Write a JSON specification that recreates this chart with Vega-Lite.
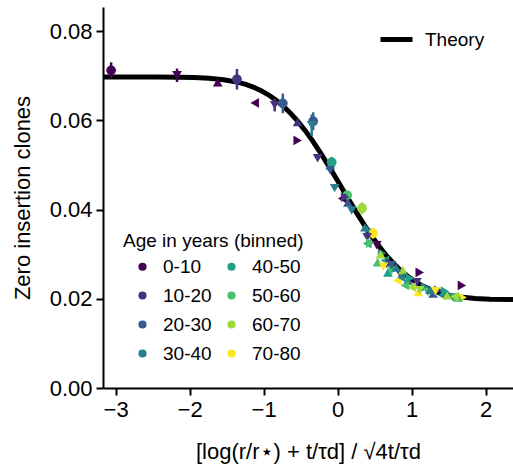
{
  "$schema": "https://vega.github.io/schema/vega-lite/v6.json",
  "width": 410,
  "height": 381,
  "autosize": {"type": "none"},
  "padding": {"left": 103, "top": 7, "right": 0, "bottom": 84},
  "config": {
    "font": "Liberation Sans",
    "view": {"stroke": null},
    "axis": {
      "domainColor": "black", "domainWidth": 2, "tickColor": "black", "tickWidth": 2, "tickSize": 7,
      "labelColor": "black", "labelFontSize": 22, "titleFontSize": 22, "titleFontWeight": "normal",
      "titleColor": "black", "grid": false, "labelPadding": 4
    },
    "legend": {"labelFont": "Liberation Sans", "titleFont": "Liberation Sans", "labelColor": "black", "titleColor": "black"}
  },
  "datasets": {
    "theory": [
      {"x": -3.17, "y": 0.0697}, {"x": -2.44, "y": 0.06969}, {"x": -2.14, "y": 0.06965}, {"x": -1.94, "y": 0.06958},
      {"x": -1.74, "y": 0.06943}, {"x": -1.54, "y": 0.06911}, {"x": -1.34, "y": 0.06851}, {"x": -1.24, "y": 0.06805},
      {"x": -1.14, "y": 0.06746}, {"x": -1.04, "y": 0.06671}, {"x": -0.94, "y": 0.06578}, {"x": -0.84, "y": 0.06463},
      {"x": -0.74, "y": 0.06327}, {"x": -0.64, "y": 0.06166}, {"x": -0.54, "y": 0.05982}, {"x": -0.44, "y": 0.05774},
      {"x": -0.34, "y": 0.05544}, {"x": -0.24, "y": 0.05295}, {"x": -0.14, "y": 0.05031}, {"x": -0.04, "y": 0.04756},
      {"x": 0.06, "y": 0.04475}, {"x": 0.16, "y": 0.04194}, {"x": 0.26, "y": 0.03919}, {"x": 0.36, "y": 0.03655},
      {"x": 0.46, "y": 0.03406}, {"x": 0.56, "y": 0.03176}, {"x": 0.66, "y": 0.02968}, {"x": 0.76, "y": 0.02784},
      {"x": 0.86, "y": 0.02623}, {"x": 0.96, "y": 0.02487}, {"x": 1.06, "y": 0.02372}, {"x": 1.16, "y": 0.02279},
      {"x": 1.26, "y": 0.02204}, {"x": 1.36, "y": 0.02145}, {"x": 1.46, "y": 0.02099}, {"x": 1.56, "y": 0.02065},
      {"x": 1.66, "y": 0.02039}, {"x": 1.86, "y": 0.02007}, {"x": 2.06, "y": 0.01992}, {"x": 2.37, "y": 0.01983}
    ],
    "pts": [
      {"x": -3.06, "y": 0.0712, "age": "0-10", "donor": "o", "ylo": 0.0694, "yhi": 0.0730},
      {"x": -2.17, "y": 0.0701, "age": "0-10", "donor": "v", "ylo": 0.0686, "yhi": 0.0716},
      {"x": -1.62, "y": 0.0685, "age": "0-10", "donor": "^"},
      {"x": -1.36, "y": 0.0692, "age": "10-20", "donor": "o", "ylo": 0.0669, "yhi": 0.0715},
      {"x": -1.12, "y": 0.0639, "age": "0-10", "donor": "<"},
      {"x": -0.85, "y": 0.0634, "age": "10-20", "donor": "v", "ylo": 0.0620, "yhi": 0.0648},
      {"x": -0.74, "y": 0.0638, "age": "20-30", "donor": "o", "ylo": 0.0616, "yhi": 0.0660},
      {"x": -0.54, "y": 0.0596, "age": "10-20", "donor": "^"},
      {"x": -0.33, "y": 0.0598, "age": "20-30", "donor": "o", "ylo": 0.0578, "yhi": 0.0618},
      {"x": -0.35, "y": 0.0589, "age": "30-40", "donor": "v", "ylo": 0.0565, "yhi": 0.0613},
      {"x": -0.54, "y": 0.0555, "age": "0-10", "donor": ">"},
      {"x": -0.27, "y": 0.0515, "age": "10-20", "donor": "v"},
      {"x": -0.10, "y": 0.0499, "age": "20-30", "donor": "^"},
      {"x": -0.08, "y": 0.0506, "age": "40-50", "donor": "o", "ylo": 0.0494, "yhi": 0.0518},
      {"x": -0.10, "y": 0.0488, "age": "20-30", "donor": "v"},
      {"x": -0.04, "y": 0.0448, "age": "30-40", "donor": "v"},
      {"x": 0.13, "y": 0.0432, "age": "50-60", "donor": "o"},
      {"x": 0.06, "y": 0.0425, "age": "0-10", "donor": "<"},
      {"x": 0.10, "y": 0.0428, "age": "10-20", "donor": ">"},
      {"x": 0.14, "y": 0.0416, "age": "20-30", "donor": "^"},
      {"x": 0.19, "y": 0.0398, "age": "30-40", "donor": "v"},
      {"x": 0.33, "y": 0.0403, "age": "60-70", "donor": "o", "ylo": 0.0390, "yhi": 0.0416},
      {"x": 0.37, "y": 0.0360, "age": "30-40", "donor": "^"},
      {"x": 0.48, "y": 0.0347, "age": "70-80", "donor": "o", "ylo": 0.0335, "yhi": 0.0359},
      {"x": 0.40, "y": 0.0338, "age": "10-20", "donor": "v"},
      {"x": 0.40, "y": 0.0324, "age": "40-50", "donor": "<"},
      {"x": 0.53, "y": 0.0320, "age": "0-10", "donor": "v"},
      {"x": 0.40, "y": 0.0354, "age": "30-40", "donor": "*"},
      {"x": 0.60, "y": 0.0302, "age": "30-40", "donor": ">"},
      {"x": 0.54, "y": 0.0282, "age": "50-60", "donor": "^"},
      {"x": 0.64, "y": 0.0286, "age": "40-50", "donor": "<"},
      {"x": 0.71, "y": 0.0280, "age": "10-20", "donor": ">"},
      {"x": 0.73, "y": 0.0264, "age": "50-60", "donor": "v"},
      {"x": 0.68, "y": 0.0259, "age": "40-50", "donor": "^"},
      {"x": 0.84, "y": 0.0257, "age": "10-20", "donor": "v"},
      {"x": 0.88, "y": 0.0264, "age": "60-70", "donor": "^"},
      {"x": 0.81, "y": 0.0241, "age": "70-80", "donor": "<"},
      {"x": 1.11, "y": 0.0259, "age": "0-10", "donor": ">"},
      {"x": 0.95, "y": 0.0241, "age": "20-30", "donor": "^"},
      {"x": 1.07, "y": 0.0237, "age": "10-20", "donor": "v"},
      {"x": 1.00, "y": 0.0226, "age": "60-70", "donor": "<"},
      {"x": 1.18, "y": 0.0226, "age": "30-40", "donor": ">"},
      {"x": 1.09, "y": 0.0215, "age": "70-80", "donor": "^"},
      {"x": 1.22, "y": 0.0215, "age": "50-60", "donor": "v"},
      {"x": 1.36, "y": 0.0219, "age": "10-20", "donor": ">"},
      {"x": 1.41, "y": 0.0208, "age": "30-40", "donor": "<"},
      {"x": 1.48, "y": 0.0208, "age": "60-70", "donor": "^"},
      {"x": 1.68, "y": 0.0230, "age": "0-10", "donor": ">"},
      {"x": 1.56, "y": 0.0203, "age": "40-50", "donor": "v"},
      {"x": 1.69, "y": 0.0203, "age": "70-80", "donor": ">"},
      {"x": 1.29, "y": 0.0212, "age": "20-30", "donor": "^"},
      {"x": 1.32, "y": 0.0217, "age": "70-80", "donor": "v"},
      {"x": 0.73, "y": 0.0275, "age": "20-30", "donor": "v"},
      {"x": 0.79, "y": 0.0270, "age": "30-40", "donor": "^"},
      {"x": 0.91, "y": 0.0230, "age": "50-60", "donor": "<"},
      {"x": 0.98, "y": 0.0246, "age": "40-50", "donor": ">"},
      {"x": 1.11, "y": 0.0219, "age": "60-70", "donor": "v"},
      {"x": 1.45, "y": 0.0217, "age": "40-50", "donor": ">"},
      {"x": 1.63, "y": 0.0203, "age": "50-60", "donor": "^"},
      {"x": 1.58, "y": 0.0205, "age": "60-70", "donor": "<"},
      {"x": 0.58, "y": 0.0300, "age": "60-70", "donor": "^"},
      {"x": 0.44, "y": 0.0325, "age": "50-60", "donor": ">"},
      {"x": 0.86, "y": 0.0248, "age": "30-40", "donor": "<"},
      {"x": 1.25, "y": 0.0220, "age": "30-40", "donor": "^"},
      {"x": 0.62, "y": 0.0272, "age": "70-80", "donor": "v"}
    ]
  },
  "encoding": {
    "x": {"field": "x", "type": "quantitative", "scale": {"domain": [-3.17, 2.37], "nice": false, "zero": false},
      "axis": {"values": [-3, -2, -1, 0, 1, 2], "format": "d", "title": "[log(r/r⋆) + t/τd] / √4t/τd", "titlePadding": 21}},
    "y": {"field": "y", "type": "quantitative", "scale": {"domain": [0, 0.0854], "nice": false},
      "axis": {"values": [0, 0.02, 0.04, 0.06, 0.08], "format": ".2f", "title": "Zero insertion clones", "titlePadding": 15}}
  },
  "layer": [
    {
      "data": {"name": "theory"},
      "mark": {"type": "line", "strokeWidth": 5, "strokeCap": "butt"},
      "encoding": {
        "stroke": {"datum": "Theory", "type": "nominal", "scale": {"range": ["black"]},
          "legend": {"orient": "none", "legendX": 275, "legendY": 14, "title": null, "symbolType": "stroke",
            "symbolSize": 1024, "symbolStrokeWidth": 5, "labelFontSize": 19, "labelOffset": 10, "padding": 0}}
      }
    },
    {
      "data": {"name": "pts"},
      "transform": [{"filter": "isValid(datum.ylo)"}],
      "mark": {"type": "rule", "strokeWidth": 2.5},
      "encoding": {
        "y": {"field": "ylo", "type": "quantitative"},
        "y2": {"field": "yhi"},
        "color": {"field": "age", "type": "nominal"}
      }
    },
    {
      "data": {"name": "pts"},
      "mark": {"type": "point", "filled": true, "size": 95, "opacity": 1},
      "encoding": {
        "color": {"field": "age", "type": "nominal",
          "scale": {"domain": ["0-10", "10-20", "20-30", "30-40", "40-50", "50-60", "60-70", "70-80"],
            "range": ["#440154", "#46327e", "#365c8d", "#277f8e", "#1fa187", "#4ac16d", "#a0da39", "#fde725"]},
          "legend": {"orient": "none", "legendX": 20, "legendY": 225, "title": "Age in years (binned)", "titleLimit": 400, "columns": 2,
            "symbolType": "circle", "symbolSize": 45, "titleFontSize": 19, "labelFontSize": 19, "titleFontWeight": "normal",
            "rowPadding": 9, "columnPadding": -3, "symbolOffset": 10, "labelOffset": 11, "titlePadding": 6, "padding": 0, "symbolOpacity": 1}},
        "shape": {"field": "donor", "type": "nominal",
          "scale": {"domain": ["o", "v", "^", "<", ">", "*"],
            "range": ["circle", "triangle-down", "triangle-up", "triangle-left", "triangle-right", "M0,-1L0.235,-0.324L0.951,-0.309L0.38,0.124L0.588,0.809L0,0.4L-0.588,0.809L-0.38,0.124L-0.951,-0.309L-0.235,-0.324Z"]},
          "legend": null}
      }
    }
  ]
}
